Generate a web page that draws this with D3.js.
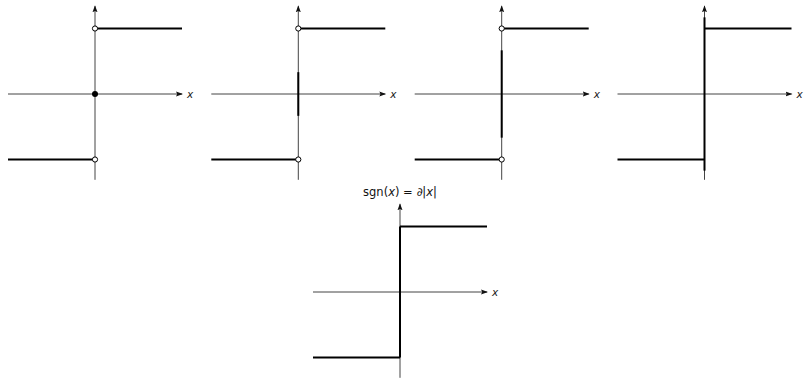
<!DOCTYPE html>
<html>
<head>
<meta charset="utf-8">
<script src="https://cdn.jsdelivr.net/npm/d3@7"></script>
<style>
  body { margin: 0; background: #fff; }
  svg { display: block; }
</style>
</head>
<body>
<svg id="chart" width="804" height="379"></svg>
<script>
// step function sgn(x) pieces
const leftStep = [[-1, -1], [0, -1]];
const rightStep = [[0, 1], [1, 1]];
// value set drawn at x = 0 in each panel (half length of the thick segment)
const jumpHalf = [0, 1 / 3, 2 / 3, 1.17, 1];
const openEnds = [true, true, true, false, false];
const dotAtZero = [true, false, false, false, false];
const axisLabel = 'x';
const titleParts = [
  { t: 'sgn(', italic: false },
  { t: 'x', italic: true },
  { t: ') = ∂|', italic: false },
  { t: 'x', italic: true },
  { t: '|', italic: false },
];
const yAxisDomain = [-1.31, 1.34];

const halfW = 87;
const unitH = 65.5;
const panels = [
  { cx: 95, cy: 94 },
  { cx: 298.3, cy: 94 },
  { cx: 501.7, cy: 94 },
  { cx: 704.5, cy: 94 },
  { cx: 400, cy: 292 },
];

const svg = d3.select('#chart');

svg.append('defs').append('marker')
  .attr('id', 'arrow')
  .attr('markerUnits', 'userSpaceOnUse')
  .attr('viewBox', '0 -3 7 6')
  .attr('refX', 6)
  .attr('refY', 0)
  .attr('markerWidth', 7)
  .attr('markerHeight', 6)
  .attr('orient', 'auto')
  .append('path')
  .attr('d', 'M0,-2.5L7,0L0,2.5L1.2,0Z')
  .attr('fill', '#111');

const line = d3.line();

panels.forEach((p, i) => {
  const x = d3.scaleLinear().domain([-1, 1]).range([p.cx - halfW, p.cx + halfW]);
  const y = d3.scaleLinear().domain([-1, 1]).range([p.cy + unitH, p.cy - unitH]);
  const g = svg.append('g').attr('class', 'panel');

  // axes
  g.append('line')
    .attr('x1', x(-1)).attr('y1', y(0))
    .attr('x2', x(1)).attr('y2', y(0))
    .attr('stroke', '#444')
    .attr('stroke-width', 1)
    .attr('marker-end', 'url(#arrow)');
  g.append('line')
    .attr('x1', x(0)).attr('y1', y(yAxisDomain[0]))
    .attr('x2', x(0)).attr('y2', y(yAxisDomain[1]))
    .attr('stroke', '#444')
    .attr('stroke-width', 1)
    .attr('marker-end', 'url(#arrow)');

  g.append('text')
    .attr('x', x(1) + 5)
    .attr('y', y(0) + 3.5)
    .attr('font-family', 'DejaVu Sans, sans-serif')
    .attr('font-style', 'italic')
    .attr('font-size', 10.5)
    .attr('fill', '#222')
    .text(axisLabel);

  // thick segment at x = 0
  if (jumpHalf[i] > 0) {
    g.append('path')
      .attr('d', line([[x(0), y(-jumpHalf[i])], [x(0), y(jumpHalf[i])]]))
      .attr('stroke', '#000')
      .attr('stroke-width', 2)
      .attr('fill', 'none');
  }

  // step pieces
  [leftStep, rightStep].forEach((seg) => {
    g.append('path')
      .attr('d', line(seg.map((d) => [x(d[0]), y(d[1])])))
      .attr('stroke', '#000')
      .attr('stroke-width', 2)
      .attr('fill', 'none');
  });

  if (dotAtZero[i]) {
    g.append('circle')
      .attr('cx', x(0)).attr('cy', y(0))
      .attr('r', 3)
      .attr('fill', '#000');
  }

  if (openEnds[i]) {
    [leftStep[1], rightStep[0]].forEach((d) => {
      g.append('circle')
        .attr('cx', x(d[0])).attr('cy', y(d[1]))
        .attr('r', 2.6)
        .attr('fill', '#fff')
        .attr('stroke', '#000')
        .attr('stroke-width', 1);
    });
  }

  if (i === panels.length - 1) {
    const title = g.append('text')
      .attr('x', x(0))
      .attr('y', y(yAxisDomain[1]) - 8)
      .attr('text-anchor', 'middle')
      .attr('font-family', 'DejaVu Sans, sans-serif')
      .attr('font-size', 11.5)
      .attr('fill', '#111');
    titleParts.forEach((part) => {
      title.append('tspan')
        .attr('font-style', part.italic ? 'italic' : 'normal')
        .text(part.t);
    });
  }
});
</script>
</body>
</html>
